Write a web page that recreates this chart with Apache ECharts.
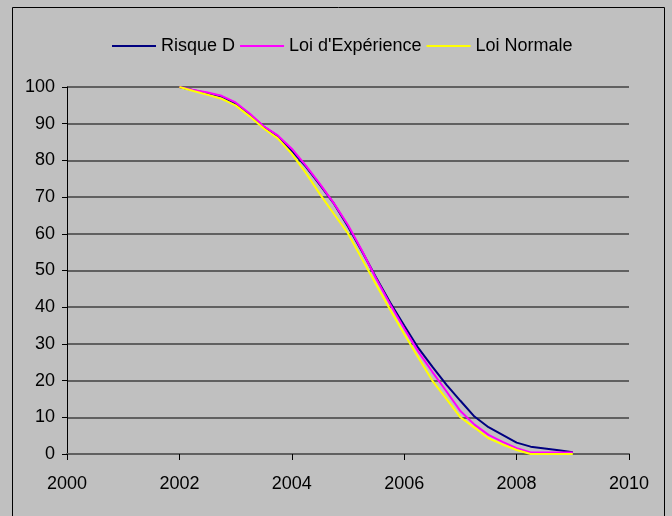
<!DOCTYPE html>
<html>
<head>
<meta charset="utf-8">
<script src="https://cdn.jsdelivr.net/npm/echarts@6/dist/echarts.min.js"></script>
<style>
  html, body { margin: 0; padding: 0; background: #c0c0c0; }
  #chart { width: 672px; height: 516px; }
</style>
</head>
<body>
<div id="chart"></div>
<script>
// Quarterly time points (years)
const years = [
  2002.00, 2002.25, 2002.50, 2002.75, 2003.00, 2003.25, 2003.50, 2003.75,
  2004.00, 2004.25, 2004.50, 2004.75, 2005.00, 2005.25, 2005.50, 2005.75,
  2006.00, 2006.25, 2006.50, 2006.75, 2007.00, 2007.25, 2007.50, 2007.75,
  2008.00, 2008.25, 2008.50, 2008.75, 2009.00
];

// Survival curves (%)
const risqueD = [
  100, 99.1, 98.3, 97.4, 95.4, 92.4, 89.2, 86.6,
  82.6, 78.3, 73.3, 68.2, 62.0, 55.2, 48.1, 41.3,
  35.0, 28.9, 23.8, 18.9, 14.5, 10.2, 7.3, 5.2,
  3.1, 2.0, 1.5, 1.0, 0.5
];
const loiExperience = [
  100, 99.2, 98.5, 97.6, 95.8, 92.8, 89.3, 86.8,
  83.2, 78.6, 73.6, 68.3, 62.4, 55.4, 47.8, 40.8,
  34.2, 27.9, 22.4, 17.1, 11.7, 8.0, 5.2, 3.3,
  1.6, 0.4, 0.4, 0.4, 0.4
];
const loiNormale = [
  100, 98.9, 97.9, 96.8, 95.0, 92.0, 88.7, 86.0,
  81.8, 76.6, 70.8, 65.4, 60.1, 53.1, 46.2, 39.3,
  32.7, 26.3, 20.0, 15.0, 10.0, 7.2, 4.3, 2.6,
  1.1, 0, 0, 0, 0
];

const seriesNames = ['Risque D', "Loi d'Expérience", 'Loi Normale'];
const seriesColors = ['#000080', '#ff00ff', '#ffff00'];
const seriesValues = [risqueD, loiExperience, loiNormale];

const FONT = "'Liberation Sans', Arial, sans-serif";
const FONT_SIZE = 18;

const chart = echarts.init(document.getElementById('chart'));

chart.setOption({
  backgroundColor: '#c0c0c0',
  animation: false,
  graphic: [{
    type: 'rect',
    shape: { x: 12.5, y: 7.5, width: 652, height: 530 },
    style: { fill: 'none', stroke: '#000', lineWidth: 1 },
    silent: true,
    z: -1
  }],
  legend: {
    top: 37,
    left: 112,
    padding: 0,
    itemGap: 5,
    itemWidth: 44,
    itemHeight: 2,
    icon: 'rect',
    textStyle: { fontFamily: FONT, fontSize: FONT_SIZE, color: '#000' },
    data: seriesNames.map((n, i) => ({ name: n, itemStyle: { color: seriesColors[i] } }))
  },
  grid: { left: 67, right: 43, top: 87, bottom: 62, containLabel: false },
  xAxis: {
    type: 'value',
    min: 2000,
    max: 2010,
    interval: 2,
    axisLine: { show: true, onZero: false, lineStyle: { color: '#606060', width: 2 } },
    axisTick: { show: true, length: 6, lineStyle: { color: '#000', width: 1 } },
    axisLabel: {
      margin: 21, fontFamily: FONT, fontSize: FONT_SIZE, color: '#000',
      formatter: v => String(v)
    },
    splitLine: { show: false }
  },
  yAxis: {
    type: 'value',
    min: 0,
    max: 100,
    interval: 10,
    axisLine: { show: true, lineStyle: { color: '#000', width: 1 } },
    axisTick: { show: true, length: 5, lineStyle: { color: '#000', width: 1 } },
    axisLabel: { margin: 12, fontFamily: FONT, fontSize: FONT_SIZE, color: '#000' },
    splitLine: { show: true, lineStyle: { color: '#606060', width: 2 } }
  },
  series: seriesNames.map((name, i) => ({
    name: name,
    type: 'line',
    symbol: 'none',
    color: seriesColors[i],
    lineStyle: { color: seriesColors[i], width: 2 },
    data: years.map((y, k) => [y, seriesValues[i][k]]),
    z: 2 + i
  }))
});
</script>
</body>
</html>
